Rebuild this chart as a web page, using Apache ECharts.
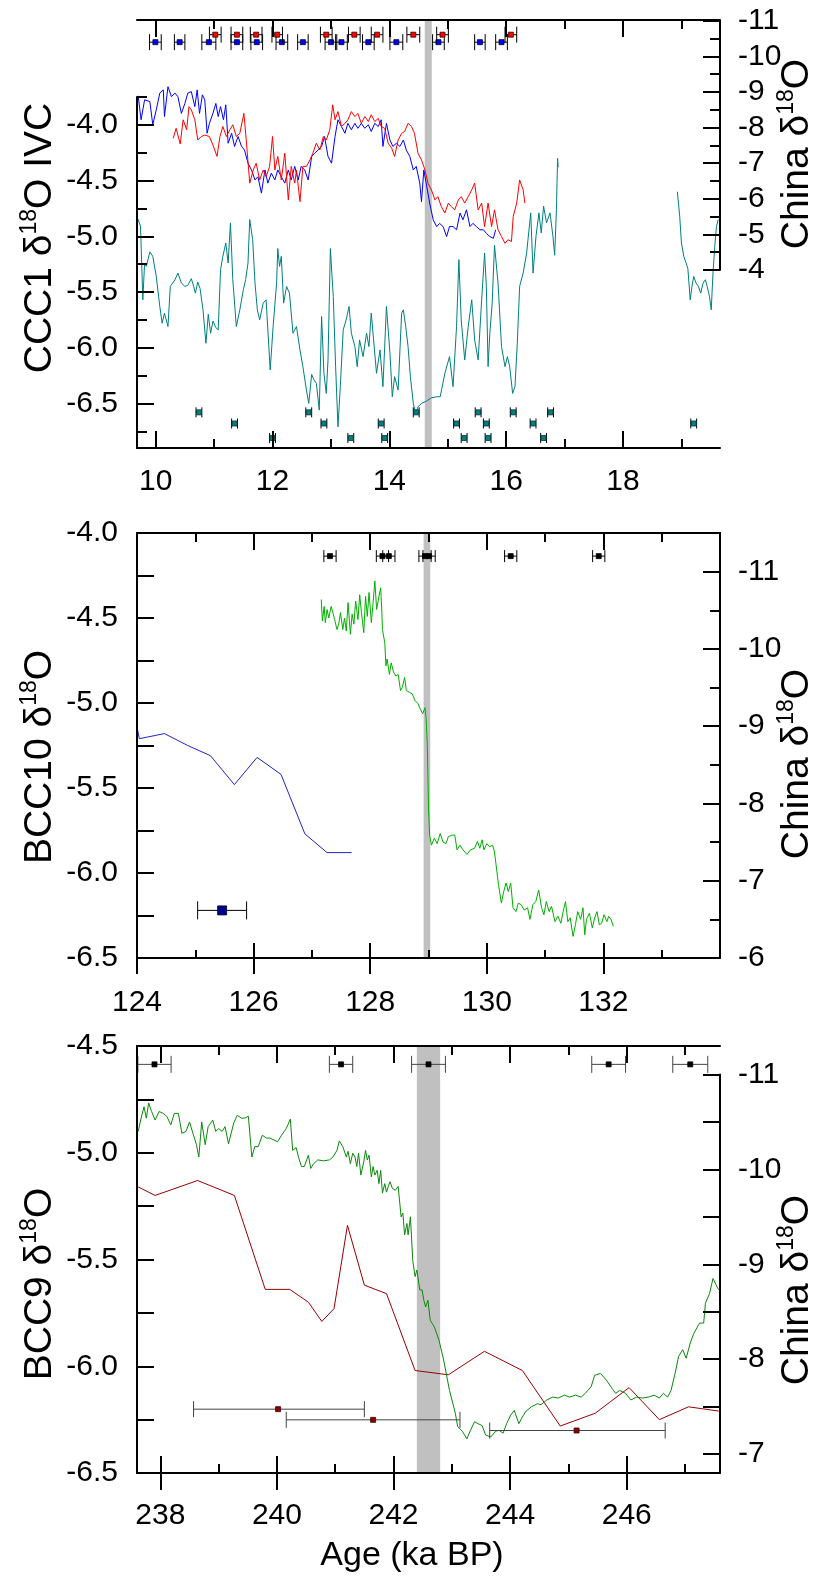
<!DOCTYPE html>
<html><head><meta charset="utf-8">
<script src="https://cdn.jsdelivr.net/npm/echarts@6/dist/echarts.min.js"></script>
<style>html,body{margin:0;padding:0;background:#fff}#c{width:816px;height:1583px}</style>
</head><body><div id="c"></div>
<script>
// ---------------- DATA ----------------
// Panel 1 (10-19.7 ka): China records (right axis) and CCC1 (left axis)
const p1ChinaBlue = [[9.68,-8.68],[9.70,-8.89],[9.75,-8.22],[9.81,-8.78],[9.90,-8.73],[9.95,-8.08],[10.01,-8.50],[10.07,-8.97],[10.13,-9.06],[10.15,-8.31],[10.21,-9.15],[10.27,-8.87],[10.33,-8.97],[10.38,-8.87],[10.44,-8.40],[10.50,-8.68],[10.55,-8.97],[10.61,-9.01],[10.67,-8.59],[10.71,-9.06],[10.75,-8.40],[10.80,-8.92],[10.84,-8.78],[10.88,-7.84],[10.92,-8.12],[10.98,-8.40],[11.03,-8.68],[11.07,-8.31],[11.11,-8.59],[11.16,-8.22],[11.20,-8.64],[11.24,-7.56],[11.30,-7.84],[11.35,-7.47],[11.41,-7.75],[11.47,-7.47],[11.52,-7.37],[11.58,-7.00],[11.64,-6.81],[11.70,-6.53],[11.75,-6.62],[11.81,-6.16],[11.87,-6.81],[11.92,-6.44],[11.98,-6.72],[12.04,-6.53],[12.09,-6.81],[12.15,-6.62],[12.21,-6.44],[12.27,-6.81],[12.32,-6.53],[12.38,-6.91],[12.44,-6.53],[12.49,-6.91],[12.55,-6.81],[12.61,-6.53],[12.67,-7.19],[12.72,-7.28],[12.78,-7.37],[12.84,-7.47],[12.89,-7.75],[12.95,-7.19],[13.01,-7.00],[13.07,-7.75],[13.12,-8.22],[13.18,-8.03],[13.24,-7.84],[13.29,-8.12],[13.35,-7.94],[13.41,-8.12],[13.46,-7.98],[13.52,-8.12],[13.58,-7.98],[13.64,-8.08],[13.69,-7.89],[13.75,-8.12],[13.81,-8.03],[13.86,-8.22],[13.89,-7.47],[13.95,-8.12],[14.01,-7.65],[14.06,-7.47],[14.12,-7.56],[14.18,-7.47],[14.24,-7.65],[14.29,-7.37],[14.35,-7.19],[14.41,-6.81],[14.46,-6.91],[14.52,-6.44],[14.55,-5.92],[14.59,-6.81],[14.63,-6.44],[14.69,-5.88],[14.75,-5.41],[14.81,-5.22],[14.86,-5.31],[14.92,-5.22],[14.98,-4.94],[15.03,-5.22],[15.09,-5.22],[15.15,-5.13],[15.21,-5.60],[15.26,-5.41],[15.32,-5.69],[15.38,-5.22],[15.43,-5.31],[15.49,-5.22],[15.55,-5.13],[15.61,-5.13],[15.66,-5.03],[15.72,-4.94],[15.78,-4.89],[15.82,-5.13]];
const p1ChinaRed = [[10.30,-7.70],[10.35,-7.98],[10.42,-7.54],[10.47,-8.22],[10.53,-7.94],[10.57,-8.59],[10.61,-8.50],[10.67,-8.22],[10.72,-7.65],[10.78,-7.75],[10.84,-7.79],[10.92,-7.75],[10.98,-7.51],[11.05,-7.19],[11.10,-7.75],[11.15,-8.03],[11.21,-7.75],[11.27,-7.94],[11.32,-8.08],[11.38,-7.75],[11.44,-7.84],[11.51,-8.40],[11.55,-7.65],[11.61,-6.44],[11.67,-6.81],[11.72,-7.00],[11.78,-6.53],[11.84,-6.81],[11.89,-6.62],[11.95,-6.91],[12.00,-7.75],[12.04,-6.81],[12.09,-7.19],[12.15,-6.53],[12.21,-7.28],[12.27,-5.97],[12.32,-6.91],[12.38,-6.44],[12.41,-6.81],[12.47,-5.92],[12.52,-6.91],[12.58,-6.91],[12.64,-7.09],[12.69,-7.28],[12.75,-7.56],[12.81,-7.37],[12.87,-7.75],[12.92,-7.65],[12.98,-7.94],[13.03,-8.64],[13.07,-8.22],[13.12,-8.45],[13.18,-8.03],[13.24,-8.12],[13.29,-8.22],[13.35,-8.45],[13.41,-8.31],[13.46,-8.40],[13.52,-8.12],[13.58,-8.31],[13.64,-8.17],[13.69,-8.36],[13.75,-8.17],[13.81,-8.26],[13.86,-8.03],[13.92,-7.98],[13.98,-7.56],[14.04,-7.42],[14.09,-7.19],[14.15,-7.65],[14.21,-7.84],[14.26,-7.89],[14.32,-8.12],[14.38,-8.03],[14.43,-7.84],[14.49,-7.28],[14.55,-7.09],[14.61,-6.81],[14.66,-6.44],[14.72,-6.25],[14.78,-5.97],[14.83,-6.06],[14.89,-5.78],[14.95,-5.60],[15.01,-5.88],[15.06,-5.78],[15.12,-5.69],[15.18,-5.97],[15.23,-6.06],[15.29,-5.88],[15.35,-6.06],[15.41,-6.25],[15.46,-6.44],[15.52,-5.69],[15.58,-5.88],[15.63,-5.22],[15.69,-5.88],[15.75,-5.22],[15.80,-5.69],[15.86,-5.13],[15.92,-4.94],[15.98,-4.75],[16.03,-4.85],[16.09,-4.80],[16.12,-5.50],[16.18,-5.88],[16.23,-6.53],[16.29,-6.25],[16.32,-5.88]];
const p1CCC1a = [[9.68,-4.90],[9.70,-4.85],[9.74,-4.91],[9.78,-5.57],[9.81,-5.24],[9.84,-5.27],[9.90,-5.14],[9.95,-5.18],[10.01,-5.36],[10.07,-5.63],[10.11,-5.78],[10.15,-5.69],[10.21,-5.81],[10.25,-5.45],[10.33,-5.39],[10.38,-5.33],[10.44,-5.42],[10.50,-5.45],[10.55,-5.44],[10.61,-5.38],[10.65,-5.45],[10.68,-5.51],[10.72,-5.41],[10.76,-5.47],[10.81,-5.66],[10.86,-5.96],[10.90,-5.70],[10.94,-5.87],[10.98,-5.76],[11.03,-5.82],[11.07,-5.84],[11.11,-5.30],[11.15,-5.18],[11.20,-5.06],[11.24,-5.24],[11.28,-4.88],[11.32,-5.39],[11.38,-5.81],[11.44,-5.66],[11.50,-5.48],[11.54,-5.39],[11.58,-5.24],[11.61,-4.85],[11.66,-5.03],[11.70,-5.42],[11.74,-5.66],[11.78,-5.75],[11.84,-5.60],[11.89,-5.57],[11.96,-6.20],[12.01,-5.81],[12.07,-5.42],[12.09,-5.11],[12.12,-5.27],[12.15,-5.18],[12.19,-5.60],[12.24,-5.45],[12.29,-5.51],[12.35,-5.87],[12.41,-5.81],[12.47,-6.02],[12.52,-6.17],[12.58,-6.38],[12.62,-6.50],[12.67,-6.24],[12.71,-6.29],[12.75,-6.32],[12.80,-6.56],[12.84,-5.72],[12.88,-6.23],[12.92,-6.41],[12.95,-6.11],[12.99,-5.11],[13.04,-5.54],[13.08,-6.17],[13.12,-6.71],[13.16,-6.35],[13.21,-5.84],[13.26,-5.75],[13.31,-5.63],[13.35,-5.87],[13.41,-5.99],[13.45,-6.17],[13.49,-5.93],[13.55,-6.08],[13.61,-5.87],[13.65,-5.99],[13.69,-5.69],[13.73,-5.93],[13.78,-6.23],[13.84,-6.02],[13.89,-6.35],[13.95,-5.63],[14.01,-6.05],[14.05,-6.44],[14.09,-6.26],[14.15,-6.38],[14.21,-5.69],[14.24,-5.66],[14.28,-5.81],[14.32,-5.99],[14.36,-6.26],[14.41,-6.50],[14.45,-6.59],[14.49,-6.53],[14.55,-6.50],[14.63,-6.48],[14.72,-6.45],[14.81,-6.44],[14.87,-6.44],[14.95,-6.23],[15.03,-6.08],[15.09,-6.35],[15.15,-5.81],[15.19,-5.21],[15.23,-5.75],[15.29,-6.11],[15.35,-5.81],[15.41,-5.57],[15.46,-5.93],[15.52,-6.11],[15.58,-5.57],[15.63,-5.15],[15.66,-5.45],[15.69,-6.17],[15.72,-5.87],[15.76,-5.60],[15.80,-5.08],[15.86,-5.42],[15.92,-5.99],[15.98,-6.17],[16.02,-6.08],[16.06,-6.17],[16.11,-6.41],[16.15,-6.35],[16.19,-5.96],[16.23,-5.45],[16.29,-5.33],[16.35,-5.15],[16.42,-4.79],[16.46,-5.33],[16.51,-5.00],[16.56,-4.79],[16.60,-4.97],[16.64,-4.73],[16.69,-4.88],[16.75,-4.79],[16.80,-5.00],[16.83,-5.17],[16.86,-4.76],[16.87,-4.52],[16.88,-4.30],[16.89,-4.38]];
const p1CCC1b = [[18.93,-4.60],[18.97,-4.82],[19.00,-5.06],[19.04,-5.18],[19.08,-5.24],[19.11,-5.29],[19.15,-5.57],[19.18,-5.45],[19.21,-5.36],[19.25,-5.42],[19.29,-5.45],[19.33,-5.51],[19.37,-5.42],[19.41,-5.39],[19.44,-5.45],[19.48,-5.54],[19.51,-5.66],[19.54,-5.33],[19.57,-5.09],[19.60,-4.91],[19.63,-4.85]];
// dating points panel 1
const p1BlueDateAge = [9.995,10.41,10.91,11.39,11.73,12.16,12.52,13.00,13.18,13.64,14.12,14.84,15.55,15.92];
const p1BlueDateErr = [0.10,0.09,0.12,0.10,0.10,0.10,0.09,0.10,0.10,0.10,0.11,0.10,0.09,0.10];
const p1BlueDateY = -10.40;
const p1RedDateAge = [11.02,11.39,11.72,12.08,12.92,13.40,13.79,14.41,14.91,16.08];
const p1RedDateErr = [0.10,0.10,0.10,0.09,0.10,0.10,0.10,0.11,0.10,0.10];
const p1RedDateY = -10.61;
const p1TealDateAge = [10.74,12.62,14.46,15.52,16.12,16.76, 11.35,12.88,13.86,15.15,15.66,16.46,19.21, 12.00,13.34,13.92,15.28,15.69,16.64];
const p1TealDateY   = [-6.58,-6.58,-6.58,-6.58,-6.58,-6.58, -6.68,-6.68,-6.68,-6.68,-6.68,-6.68,-6.68, -6.81,-6.81,-6.81,-6.81,-6.81,-6.81];
const p1TealDateErr = 0.05;
const p1Shade = [14.606, 14.726];

// Panel 2 (124-134 ka)
const p2BCC10 = [[124.00,-5.14],[124.04,-5.21],[124.47,-5.18],[124.87,-5.25],[125.26,-5.31],[125.67,-5.48],[126.06,-5.32],[126.47,-5.42],[126.88,-5.77],[127.26,-5.88],[127.68,-5.88]];
const p2BCC10Date = [125.46, -6.22, 0.42];
const p2China = [[127.16,-10.64],[127.18,-10.36],[127.21,-10.55],[127.23,-10.34],[127.26,-10.51],[127.29,-10.40],[127.33,-10.55],[127.36,-10.47],[127.39,-10.38],[127.43,-10.25],[127.46,-10.32],[127.49,-10.47],[127.53,-10.25],[127.56,-10.40],[127.59,-10.23],[127.62,-10.60],[127.66,-10.19],[127.69,-10.45],[127.72,-10.32],[127.75,-10.62],[127.79,-10.38],[127.82,-10.70],[127.85,-10.47],[127.89,-10.21],[127.92,-10.68],[127.95,-10.42],[127.98,-10.73],[128.02,-10.34],[128.05,-10.60],[128.08,-10.88],[128.11,-10.51],[128.15,-10.68],[128.18,-10.79],[128.20,-10.47],[128.21,-10.25],[128.25,-10.08],[128.27,-9.78],[128.29,-9.87],[128.33,-9.67],[128.36,-9.82],[128.40,-9.70],[128.44,-9.65],[128.48,-9.67],[128.52,-9.46],[128.55,-9.50],[128.59,-9.63],[128.62,-9.46],[128.67,-9.44],[128.72,-9.42],[128.77,-9.33],[128.82,-9.29],[128.86,-9.22],[128.90,-9.16],[128.94,-9.24],[128.96,-9.09],[128.98,-8.75],[128.99,-8.36],[129.00,-7.93],[129.02,-7.59],[129.05,-7.46],[129.10,-7.55],[129.15,-7.48],[129.20,-7.61],[129.25,-7.50],[129.30,-7.48],[129.34,-7.57],[129.40,-7.59],[129.45,-7.59],[129.49,-7.40],[129.54,-7.46],[129.59,-7.40],[129.66,-7.34],[129.72,-7.40],[129.79,-7.42],[129.84,-7.51],[129.88,-7.42],[129.92,-7.53],[129.95,-7.40],[130.00,-7.48],[130.05,-7.44],[130.10,-7.46],[130.13,-7.38],[130.16,-7.20],[130.20,-6.95],[130.25,-6.71],[130.29,-6.86],[130.33,-6.97],[130.37,-6.86],[130.41,-6.97],[130.45,-6.65],[130.50,-6.60],[130.54,-6.71],[130.59,-6.69],[130.64,-6.62],[130.70,-6.65],[130.74,-6.50],[130.79,-6.69],[130.84,-6.73],[130.89,-6.88],[130.94,-6.65],[130.98,-6.56],[131.02,-6.73],[131.07,-6.60],[131.11,-6.67],[131.17,-6.47],[131.22,-6.54],[131.27,-6.45],[131.31,-6.60],[131.35,-6.73],[131.39,-6.47],[131.43,-6.52],[131.48,-6.28],[131.52,-6.43],[131.56,-6.60],[131.61,-6.50],[131.65,-6.65],[131.68,-6.30],[131.71,-6.50],[131.76,-6.58],[131.81,-6.39],[131.85,-6.52],[131.89,-6.60],[131.93,-6.43],[131.97,-6.45],[132.01,-6.56],[132.06,-6.47],[132.09,-6.54],[132.13,-6.50],[132.17,-6.41]];
const p2DateAge = [127.31,128.21,128.32,128.94,129.01,130.41,131.92];
const p2DateErr = 0.105;
const p2DateY = -4.136;
const p2Shade = [128.916, 129.03];

// Panel 3 (237.6-247.6 ka)
const p3BCC9 = [[237.62,-5.16],[237.91,-5.20],[238.64,-5.13],[239.27,-5.20],[239.80,-5.64],[240.22,-5.64],[240.54,-5.70],[240.77,-5.79],[240.98,-5.73],[241.21,-5.34],[241.50,-5.62],[241.88,-5.66],[242.37,-6.02],[242.94,-6.04],[243.56,-5.93],[244.21,-6.02],[244.86,-6.28],[245.46,-6.22],[246.04,-6.10],[246.56,-6.25],[247.06,-6.19],[247.58,-6.21]];
const p3China = [[237.62,-10.40],[237.67,-10.54],[237.72,-10.66],[237.76,-10.54],[237.80,-10.70],[237.85,-10.61],[237.91,-10.52],[237.98,-10.61],[238.05,-10.59],[238.11,-10.56],[238.18,-10.47],[238.24,-10.59],[238.31,-10.59],[238.37,-10.38],[238.44,-10.40],[238.50,-10.50],[238.57,-10.36],[238.62,-10.26],[238.66,-10.13],[238.71,-10.50],[238.77,-10.26],[238.82,-10.45],[238.90,-10.52],[238.95,-10.40],[239.00,-10.43],[239.06,-10.40],[239.11,-10.45],[239.17,-10.27],[239.26,-10.49],[239.32,-10.57],[239.39,-10.54],[239.45,-10.54],[239.51,-10.56],[239.57,-10.13],[239.62,-10.24],[239.68,-10.24],[239.75,-10.36],[239.82,-10.33],[239.88,-10.33],[239.95,-10.31],[240.01,-10.29],[240.08,-10.36],[240.16,-10.43],[240.23,-10.53],[240.27,-10.20],[240.33,-10.23],[240.37,-10.13],[240.42,-10.03],[240.47,-10.03],[240.54,-10.15],[240.58,-10.01],[240.63,-10.06],[240.70,-10.10],[240.80,-10.09],[240.90,-10.10],[240.96,-10.13],[241.03,-10.20],[241.07,-10.30],[241.13,-10.24],[241.19,-10.13],[241.22,-10.19],[241.26,-10.06],[241.30,-10.17],[241.34,-10.13],[241.37,-10.03],[241.40,-10.17],[241.44,-9.94],[241.49,-10.08],[241.52,-10.20],[241.55,-10.10],[241.58,-10.15],[241.62,-9.92],[241.65,-10.03],[241.68,-9.94],[241.72,-9.99],[241.75,-9.85],[241.78,-9.99],[241.81,-9.75],[241.85,-9.85],[241.88,-9.76],[241.91,-9.82],[241.94,-9.87],[241.98,-9.80],[242.03,-9.78],[242.08,-9.82],[242.11,-9.80],[242.13,-9.50],[242.16,-9.54],[242.19,-9.31],[242.23,-9.43],[242.25,-9.31],[242.29,-9.50],[242.33,-9.04],[242.37,-8.87],[242.40,-8.94],[242.45,-8.73],[242.49,-8.73],[242.52,-8.62],[242.55,-8.55],[242.59,-8.62],[242.63,-8.41],[242.70,-8.34],[242.78,-8.20],[242.86,-7.99],[242.96,-7.67],[243.06,-7.43],[243.10,-7.29],[243.18,-7.24],[243.26,-7.16],[243.32,-7.25],[243.39,-7.34],[243.45,-7.32],[243.52,-7.30],[243.58,-7.20],[243.67,-7.18],[243.75,-7.24],[243.81,-7.25],[243.88,-7.22],[243.94,-7.32],[244.01,-7.41],[244.07,-7.46],[244.15,-7.32],[244.21,-7.39],[244.27,-7.45],[244.37,-7.50],[244.47,-7.53],[244.53,-7.52],[244.63,-7.57],[244.73,-7.60],[244.83,-7.59],[244.93,-7.62],[245.02,-7.60],[245.12,-7.62],[245.22,-7.60],[245.29,-7.64],[245.39,-7.71],[245.45,-7.83],[245.55,-7.85],[245.65,-7.78],[245.75,-7.69],[245.81,-7.64],[245.88,-7.67],[245.98,-7.64],[246.07,-7.57],[246.17,-7.60],[246.27,-7.59],[246.37,-7.60],[246.47,-7.62],[246.56,-7.59],[246.63,-7.64],[246.70,-7.60],[246.76,-7.67],[246.83,-7.85],[246.89,-8.03],[246.96,-8.10],[247.02,-8.01],[247.09,-8.17],[247.15,-8.27],[247.25,-8.38],[247.32,-8.38],[247.35,-8.59],[247.42,-8.69],[247.48,-8.85],[247.55,-8.76],[247.58,-8.73]];
const p3TopDateAge = [237.90,241.10,242.60,245.69,247.09];
const p3TopDateErr = [0.285,0.20,0.29,0.29,0.30];
const p3TopDateY = -4.586;
const p3LowDateAge = [240.02,241.65,245.14];
const p3LowDateLo  = [238.57,240.16,243.65];
const p3LowDateHi  = [241.50,243.14,246.66];
const p3LowDateY   = [-6.201,-6.251,-6.301];
const p3Shade = [242.40, 242.80];

// axis ranges and tick labels
const P1X = [9.68, 19.66], P2X = [124, 134], P3X = [237.6, 247.6];
const p1XLabels = [10,12,14,16,18], p1XMinor = [11,13,15,17,19];
const p2XLabels = [124,126,128,130,132], p2XMinor = [125,127,129,131,133];
const p3XLabels = [238,240,242,244,246], p3XMinor = [239,241,243,245,247];
const p1LeftLabels = [-4.0,-4.5,-5.0,-5.5,-6.0,-6.5], p1LeftMinor = [-3.75,-4.25,-4.75,-5.25,-5.75,-6.25,-6.75];
const p1RightLabels = [-11,-10,-9,-8,-7,-6,-5,-4], p1RightMinor = [-10.5,-9.5,-8.5,-7.5,-6.5,-5.5,-4.5];
const p2LeftLabels = [-4.0,-4.5,-5.0,-5.5,-6.0,-6.5], p2LeftTicks = [-4.25,-4.5,-4.75,-5.0,-5.25,-5.5,-5.75,-6.0,-6.25];
const p2RightLabels = [-11,-10,-9,-8,-7,-6], p2RightMinor = [-10.5,-9.5,-8.5,-7.5,-6.5];
const p3LeftLabels = [-4.5,-5.0,-5.5,-6.0,-6.5], p3LeftTicks = [-4.75,-5.0,-5.25,-5.5,-5.75,-6.0,-6.25];
const p3RightLabels = [-11,-10,-9,-8,-7], p3RightMinor = [-10.5,-9.5,-8.5,-7.5];

// ---------------- CHART ----------------
const FONT = '"Liberation Sans", Arial, sans-serif';
const K = '#000';
const LABEL_SIZE = 30;
const fmt1 = v => Number(v).toFixed(1);
const fmt0 = v => String(Math.round(v));

function grid(top, height){ return {left:137, width:583, top:top, height:height, containLabel:false, outerBoundsMode:'none', show:false}; }
const grids = [grid(20,428), grid(97,351), grid(20.8,249.2), grid(533,425), grid(533,425), grid(1046,427), grid(1074.5,398.5)];

const xAxes = [], yAxes = [];
function mkAxis(gi, range, pos, o){
  const a = {type:'value', gridIndex:gi, min:range[0], max:range[1], position:pos, z:5,
    splitLine:{show:false}, splitArea:{show:false},
    axisLine:{show:!!o.line, onZero:false, lineStyle:{color:K, width:2}},
    axisTick:{show:!!o.ticks, inside:o.inside!==false, length:o.len||17, lineStyle:{color:K, width:2}},
    axisLabel:{show:!!o.labels, color:K, fontFamily:FONT, fontSize:LABEL_SIZE, margin:(o.margin==null?18:o.margin)},
    axisPointer:{show:false}};
  if (o.ticks) a.axisTick.customValues = o.ticks;
  if (o.labels) a.axisLabel.customValues = o.labels;
  if (o.fmt) a.axisLabel.formatter = o.fmt;
  if (o.inverse) a.inverse = true;
  if (o.hidden) a.show = false;
  return a;
}
function X(gi, range, pos, o){ xAxes.push(mkAxis(gi, range, pos, o)); return xAxes.length-1; }
function Y(gi, range, pos, o){ yAxes.push(mkAxis(gi, range, pos, o)); return yAxes.length-1; }

// Panel 1
const x0 = X(0, P1X, 'bottom', {line:true, ticks:p1XLabels, len:17, labels:p1XLabels, margin:19, fmt:fmt0});
X(0, P1X, 'bottom', {ticks:p1XMinor, len:9});
X(0, P1X, 'top', {line:true, ticks:p1XLabels, len:17});
X(0, P1X, 'top', {ticks:p1XMinor, len:9});
const y0 = Y(0, [0,1], 'left', {hidden:true});
const x1 = X(1, P1X, 'bottom', {hidden:true});
const y1 = Y(1, [-6.9,-3.75], 'left', {line:true, ticks:p1LeftLabels, len:17, labels:p1LeftLabels, fmt:fmt1, margin:19});
Y(1, [-6.9,-3.75], 'left', {ticks:p1LeftMinor, len:10});
const x2 = X(2, P1X, 'bottom', {hidden:true});
const y2 = Y(2, [-11,-4], 'right', {line:true, inverse:true, ticks:p1RightLabels, len:17, labels:p1RightLabels, fmt:fmt0, margin:18});
Y(2, [-11,-4], 'right', {inverse:true, ticks:p1RightMinor, len:10});
// Panel 2
const x3 = X(3, P2X, 'bottom', {line:true, ticks:p2XLabels, len:15, labels:p2XLabels, margin:30, fmt:fmt0});
X(3, P2X, 'bottom', {ticks:p2XLabels, len:16, inside:false});
X(3, P2X, 'bottom', {ticks:p2XMinor, len:8});
X(3, P2X, 'top', {line:true, ticks:p2XLabels, len:17});
X(3, P2X, 'top', {ticks:p2XMinor, len:9});
const y3 = Y(3, [-6.5,-4.0], 'left', {line:true, ticks:p2LeftTicks, len:17, labels:p2LeftLabels, fmt:fmt1, margin:19});
const x4 = X(4, P2X, 'bottom', {hidden:true});
const y4 = Y(4, [-11.5,-6], 'right', {line:true, inverse:true, ticks:p2RightLabels, len:17, labels:p2RightLabels, fmt:fmt0, margin:18});
Y(4, [-11.5,-6], 'right', {inverse:true, ticks:p2RightMinor, len:10});
// Panel 3
const x5 = X(5, P3X, 'bottom', {line:true, ticks:p3XLabels, len:17, labels:p3XLabels, margin:28, fmt:fmt0});
X(5, P3X, 'bottom', {ticks:p3XLabels, len:17, inside:false});
X(5, P3X, 'bottom', {ticks:p3XMinor, len:9});
X(5, P3X, 'top', {line:true, ticks:p3XLabels, len:17});
X(5, P3X, 'top', {ticks:p3XMinor, len:9});
const y5 = Y(5, [-6.5,-4.5], 'left', {line:true, ticks:p3LeftTicks, len:17, labels:p3LeftLabels, fmt:fmt1, margin:19});
const x6 = X(6, P3X, 'bottom', {hidden:true});
const y6 = Y(6, [-11,-6.8], 'right', {line:true, inverse:true, ticks:p3RightLabels, len:17, labels:p3RightLabels, fmt:fmt0, margin:18});
Y(6, [-11,-6.8], 'right', {inverse:true, ticks:p3RightMinor, len:17});

// series helpers
function line(xi, yi, data, color, w){
  return {type:'line', xAxisIndex:xi, yAxisIndex:yi, data:data, symbol:'none', showSymbol:false,
    lineStyle:{color:color, width:w||1}, itemStyle:{color:color}, z:3, silent:true, clip:true, animation:false};
}
function shade(xi, yi, range){
  return {type:'custom', xAxisIndex:xi, yAxisIndex:yi, z:1, silent:true, data:[range],
    renderItem:function(params, api){
      const a = api.coord([api.value(0), 0]); const b = api.coord([api.value(1), 0]);
      const cs = params.coordSys;
      return {type:'rect', shape:{x:a[0], y:cs.y, width:b[0]-a[0], height:cs.height}, style:{fill:'#c0c0c0'}};
    }};
}
function errBars(xi, yi, rows, st){
  return {type:'custom', xAxisIndex:xi, yAxisIndex:yi, z:4, silent:true, clip:false, data:rows,
    encode:{x:0, y:1},
    renderItem:function(params, api){
      const yv = api.value(1);
      const c = api.coord([api.value(0), yv]);
      const l = api.coord([api.value(2), yv]);
      const r = api.coord([api.value(3), yv]);
      const h = st.cap/2, s = st.size;
      const ls = {stroke:st.bar, lineWidth:st.lw||1};
      return {type:'group', children:[
        {type:'line', shape:{x1:l[0], y1:c[1], x2:r[0], y2:c[1]}, style:ls},
        {type:'line', shape:{x1:l[0], y1:c[1]-h, x2:l[0], y2:c[1]+h}, style:ls},
        {type:'line', shape:{x1:r[0], y1:c[1]-h, x2:r[0], y2:c[1]+h}, style:ls},
        {type:'rect', shape:{x:c[0]-s/2, y:c[1]-s/2, width:s, height:s}, style:{fill:st.fill, stroke:st.edge, lineWidth:st.ew||0.8}}
      ]};
    }};
}

const p1BlueRows = p1BlueDateAge.map((a,i)=>[a, p1BlueDateY, a-p1BlueDateErr[i], a+p1BlueDateErr[i]]);
const p1RedRows = p1RedDateAge.map((a,i)=>[a, p1RedDateY, a-p1RedDateErr[i], a+p1RedDateErr[i]]);
const p1TealRows = p1TealDateAge.map((a,i)=>[a, p1TealDateY[i], a-p1TealDateErr, a+p1TealDateErr]);
const p2Rows = p2DateAge.map(a=>[a, p2DateY, a-p2DateErr, a+p2DateErr]);
const p2BlueRow = [[p2BCC10Date[0], p2BCC10Date[1], p2BCC10Date[0]-p2BCC10Date[2], p2BCC10Date[0]+p2BCC10Date[2]]];
const p3TopRows = p3TopDateAge.map((a,i)=>[a, p3TopDateY, a-p3TopDateErr[i], a+p3TopDateErr[i]]);
const p3LowRows = p3LowDateAge.map((a,i)=>[a, p3LowDateY[i], p3LowDateLo[i], p3LowDateHi[i]]);

const series = [
  shade(x0, y0, p1Shade),
  line(x1, y1, p1CCC1a, '#008080'),
  line(x1, y1, p1CCC1b, '#008080'),
  line(x2, y2, p1ChinaBlue, '#0000ff'),
  line(x2, y2, p1ChinaRed, '#ff0000'),
  errBars(x2, y2, p1BlueRows, {bar:'#000', cap:16, size:5, fill:'#0000ff', edge:'#000033'}),
  errBars(x2, y2, p1RedRows, {bar:'#000', cap:16, size:5, fill:'#ff0000', edge:'#330000'}),
  errBars(x1, y1, p1TealRows, {bar:'#000', cap:10, size:5, fill:'#008080', edge:'#003333'}),
  shade(x3, y3, p2Shade),
  line(x3, y3, p2BCC10, '#2222cc'),
  line(x4, y4, p2China, '#00b000'),
  errBars(x3, y3, p2Rows, {bar:'#000', cap:12, size:5, fill:'#000', edge:'#000'}),
  errBars(x3, y3, p2BlueRow, {bar:'#000', cap:18, size:9, fill:'#000090', edge:'#000'}),
  shade(x5, y5, p3Shade),
  line(x5, y5, p3BCC9, '#990000'),
  line(x6, y6, p3China, '#0a8a0a'),
  errBars(x5, y5, p3TopRows, {bar:'#444', cap:17, size:5, fill:'#000', edge:'#000'}),
  errBars(x5, y5, p3LowRows, {bar:'#444', cap:16, size:5, fill:'#8b0000', edge:'#400000'})
];

function title(x, y, pre, post){
  return {type:'text', x:x, y:y, rotation:Math.PI/2, z:10, silent:true,
    style:{text:'{n|'+pre+'}{s|18}{n|'+post+'}', align:'center', verticalAlign:'middle', fill:K,
      rich:{n:{fontFamily:FONT, fontSize:39, lineHeight:44, fill:K}, s:{fontFamily:FONT, fontSize:23, lineHeight:19, verticalAlign:'top', fill:K}}}};
}
const graphic = [
  title(40, 238, 'CCC1 δ', 'O IVC'),
  title(797, 154, 'China δ', 'O'),
  title(40, 757, 'BCC10 δ', 'O'),
  title(797, 764, 'China δ', 'O'),
  title(40, 1284, 'BCC9 δ', 'O'),
  title(797, 1290, 'China δ', 'O'),
  {type:'text', x:412, y:1556, z:10, silent:true, style:{text:'Age (ka BP)', align:'center', verticalAlign:'middle', fill:K, fontFamily:FONT, fontSize:34}}
];

const chart = echarts.init(document.getElementById('c'), null, {renderer:'canvas', width:816, height:1583});
chart.setOption({animation:false, backgroundColor:'#fff', grid:grids, xAxis:xAxes, yAxis:yAxes, series:series, graphic:graphic});
</script></body></html>
